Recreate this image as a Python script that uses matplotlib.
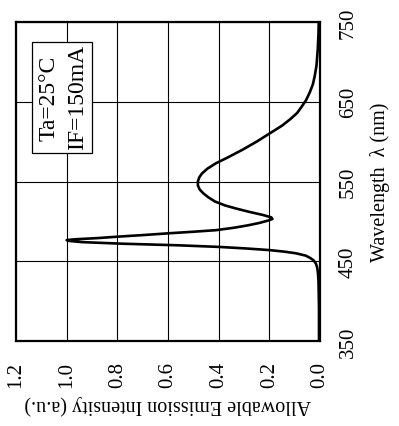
import matplotlib
matplotlib.use("Agg")
import matplotlib.pyplot as plt
from matplotlib.patches import Rectangle

wavelength = [350, 370, 390, 410, 425, 435, 442, 447, 451, 454, 457, 460, 462, 464,
              466, 468, 470, 472, 474, 475.5, 476.5, 477.5, 479, 481, 483, 485, 487,
              489, 492, 495, 498, 501, 503, 505, 508, 512, 516, 520, 525, 530, 535,
              540, 545, 550, 555, 560, 566, 573, 580, 590, 600, 610, 620, 628, 636,
              644, 652, 662, 672, 682, 695, 715, 735, 750]
intensity = [0.004, 0.004, 0.004, 0.005, 0.006, 0.008, 0.011, 0.016, 0.025, 0.038,
             0.056, 0.095, 0.140, 0.200, 0.290, 0.400, 0.560, 0.780, 0.940, 0.990,
             1.000, 0.970, 0.880, 0.790, 0.690, 0.600, 0.500, 0.410, 0.340, 0.285,
             0.240, 0.205, 0.188, 0.192, 0.225, 0.280, 0.330, 0.375, 0.415, 0.440,
             0.460, 0.475, 0.482, 0.482, 0.477, 0.466, 0.445, 0.410, 0.365, 0.305,
             0.250, 0.200, 0.150, 0.118, 0.090, 0.072, 0.055, 0.040, 0.028, 0.021,
             0.014, 0.009, 0.006, 0.005]

wl_ticks = [350, 450, 550, 650, 750]
int_ticks = [0.0, 0.2, 0.4, 0.6, 0.8, 1.0, 1.2]
int_ticklabels = ["0.0", "0.2", "0.4", "0.6", "0.8", "1.0", "1.2"]

plt.rcParams['font.family'] = ['Liberation Serif', 'DejaVu Serif']

W, H = 399, 427
fig = plt.figure(figsize=(W / 100, H / 100), dpi=100)
ax = fig.add_axes([16 / W, 1 - 342 / H, (320 - 16) / W, (342 - 23) / H])

ax.plot(intensity, wavelength, color='black', lw=1.9, zorder=3)
ax.set_xlim(1.2, 0.0)
ax.set_ylim(350, 750)

ax.set_xticks(int_ticks)
ax.set_xticklabels(int_ticklabels, rotation=90, fontsize=15)
ax.set_yticks(wl_ticks)
ax.set_yticklabels([str(t) for t in wl_ticks], rotation=90, fontsize=15, va='center')
ax.yaxis.tick_right()
ax.yaxis.set_label_position('right')
ax.tick_params(axis='both', length=0)
ax.tick_params(axis='x', pad=14.5)
ax.tick_params(axis='y', pad=13.5)

ax.grid(True, color='black', lw=0.8)
ax.set_axisbelow(True)
for s in ax.spines.values():
    s.set_linewidth(1.6)

ax.set_xlabel("Allowable Emission Intensity (a.u.)", rotation=180, fontsize=14.5, labelpad=5)
ax.set_ylabel("Wavelength  \u03bb (nm)", rotation=90, fontsize=14.5, labelpad=8.5)

rect = Rectangle((0.899, 585.9), 1.136 - 0.899, 725.5 - 585.9, facecolor='white',
                 edgecolor='black', lw=0.9, zorder=2)
ax.add_patch(rect)
ax.text(1.069, 655.5, "Ta=25\u00b0C", rotation=90, fontsize=17, ha='center', va='center', zorder=4)
ax.text(0.958, 656.5, "IF=150mA", rotation=90, fontsize=17, ha='center', va='center', zorder=4)

fig.savefig("out.png", dpi=100)
